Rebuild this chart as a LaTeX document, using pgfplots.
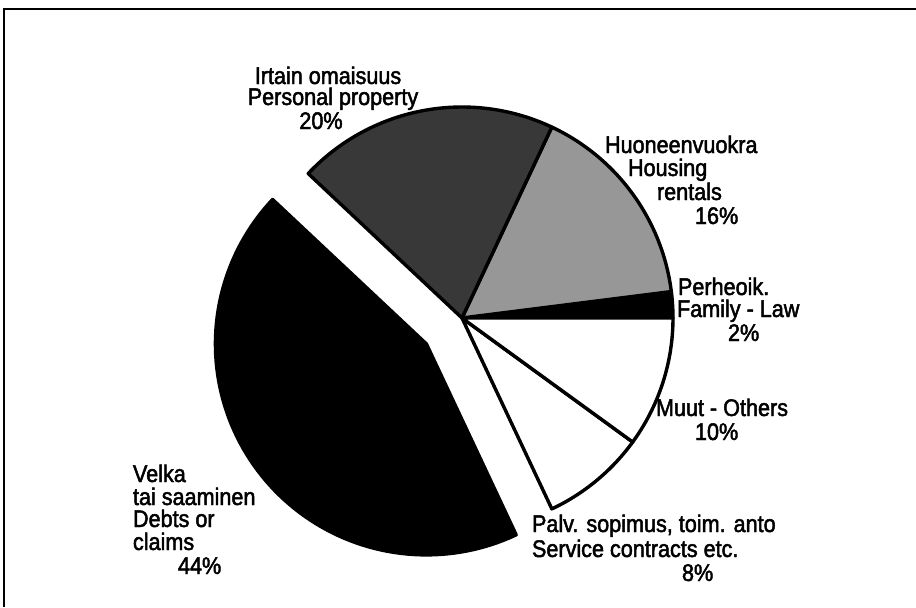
\documentclass[border=0pt]{standalone}
\usepackage{fontspec}
\setmainfont{Liberation Sans}[FakeStretch=0.9, FakeBold=2]
\usepackage{pgfplots}
\pgfplotsset{compat=1.18}

% slice: start percent, end percent, fill colour, explode dx, explode dy (pixel units)
\newcommand{\pieslice}[5]{%
  \addplot[draw=black, line width=1.7pt, line join=round, fill=#3,
    domain={#1*3.6}:{#2*3.6}, samples=90, variable=\t]
    ({462+#4+211*cos(\t)},{289+#5+211*sin(\t)}) -- (axis cs:{462+#4},{289+#5}) -- cycle;
}
\definecolor{darkhalf}{HTML}{383838}
\definecolor{lighthalf}{HTML}{979797}
\tikzset{lab/.style={font=\fontsize{12}{14}\selectfont, inner sep=0pt, outer sep=0pt}}

\begin{document}
\begin{tikzpicture}
\begin{axis}[
  x=0.5pt, y=0.5pt,
  xmin=0, xmax=916, ymin=0, ymax=607,
  hide axis, clip=false,
]
% frame (only top and left edges visible in the scan)
\addplot[draw=black, line width=1pt] coordinates {(4,0) (4,598) (916,598)};

% slices (percentages: 2, 16, 20, 44, 8, 10)
\pieslice{0}{2}{black}{0}{0}
\pieslice{2}{18}{lighthalf}{0}{0}
\pieslice{18}{38}{darkhalf}{0}{0}
\pieslice{82}{90}{white}{0}{0}
\pieslice{90}{100}{white}{0}{0}
\pieslice{38}{82}{black}{-35.6}{-25.9}

% labels
\node[lab, anchor=base] at (axis cs:328,523) {Irtain omaisuus};
\node[lab, anchor=base] at (axis cs:333,502) {Personal property};
\node[lab, anchor=base] at (axis cs:321,478) {20\%};

\node[lab, anchor=base west] at (axis cs:605,454) {Huoneenvuokra};
\node[lab, anchor=base west] at (axis cs:628,431) {Housing};
\node[lab, anchor=base west] at (axis cs:657,407) {rentals};
\node[lab, anchor=base west] at (axis cs:695,383) {16\%};

\node[lab, anchor=base west] at (axis cs:678,312) {Perheoik.};
\node[lab, anchor=base west] at (axis cs:677,290) {Family - Law};
\node[lab, anchor=base west] at (axis cs:728,266) {2\%};

\node[lab, anchor=base west] at (axis cs:656,191) {Muut - Others};
\node[lab, anchor=base west] at (axis cs:695,167) {10\%};

\node[lab, anchor=base west] at (axis cs:532,75) {Palv. sopimus, toim. anto};
\node[lab, anchor=base west] at (axis cs:532,50) {Service contracts etc.};
\node[lab, anchor=base west] at (axis cs:682,26) {8\%};

\node[lab, anchor=base west] at (axis cs:133,125) {Velka};
\node[lab, anchor=base west] at (axis cs:133,102) {tai saaminen};
\node[lab, anchor=base west] at (axis cs:133,80) {Debts or};
\node[lab, anchor=base west] at (axis cs:133,57) {claims};
\node[lab, anchor=base west] at (axis cs:178,33) {44\%};
\end{axis}
\pgfresetboundingbox
\path[use as bounding box] (current axis.south west) rectangle (current axis.north east);
\end{tikzpicture}
\end{document}
